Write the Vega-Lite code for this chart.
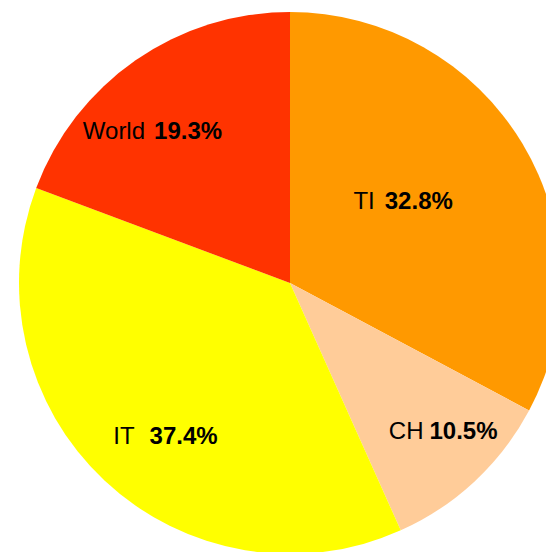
{
  "$schema": "https://vega.github.io/schema/vega-lite/v6.json",
  "autosize": {"type": "none"},
  "width": 512,
  "height": 538,
  "padding": {"left": 34, "top": 14, "right": 0, "bottom": 0},
  "background": "white",
  "config": {"view": {"stroke": null}},
  "data": {"values": [
    {"name": "TI", "pct": 32.8, "rank": 1},
    {"name": "CH", "pct": 10.5, "rank": 2},
    {"name": "IT", "pct": 37.4, "rank": 3},
    {"name": "World", "pct": 19.3, "rank": 4}
  ]},
  "transform": [{"calculate": "format(datum.pct, '.1f') + '%'", "as": "label"}],
  "encoding": {
    "theta": {"field": "pct", "type": "quantitative", "stack": true},
    "order": {"field": "rank", "type": "quantitative"}
  },
  "layer": [
    {
      "mark": {"type": "arc", "outerRadius": 271},
      "encoding": {
        "color": {"field": "name", "type": "nominal", "legend": null,
          "scale": {"domain": ["TI", "CH", "IT", "World"], "range": ["#FF9900", "#FFCC99", "#FFFF00", "#FF3300"]}}
      }
    },
    {
      "mark": {"type": "text", "radius": 117, "thetaOffset": -0.22, "align": "right", "baseline": "middle", "font": "Liberation Sans", "fontSize": 24, "color": "black"},
      "encoding": {"text": {"condition": {"test": "datum.name === 'TI'", "field": "name"}, "value": ""}}
    },
    {
      "mark": {"type": "text", "radius": 117, "thetaOffset": -0.22, "align": "left", "dx": 10, "baseline": "middle", "font": "Liberation Sans", "fontSize": 24, "fontWeight": "bold", "color": "black"},
      "encoding": {"text": {"condition": {"test": "datum.name === 'TI'", "field": "label"}, "value": ""}}
    },
    {
      "mark": {"type": "text", "radius": 200, "thetaOffset": 0.02, "align": "right", "baseline": "middle", "font": "Liberation Sans", "fontSize": 24, "color": "black"},
      "encoding": {"text": {"condition": {"test": "datum.name === 'CH'", "field": "name"}, "value": ""}}
    },
    {
      "mark": {"type": "text", "radius": 200, "thetaOffset": 0.02, "align": "left", "dx": 6, "baseline": "middle", "font": "Liberation Sans", "fontSize": 24, "fontWeight": "bold", "color": "black"},
      "encoding": {"text": {"condition": {"test": "datum.name === 'CH'", "field": "label"}, "value": ""}}
    },
    {
      "mark": {"type": "text", "radius": 219, "thetaOffset": 0.035, "align": "right", "baseline": "middle", "font": "Liberation Sans", "fontSize": 24, "color": "black"},
      "encoding": {"text": {"condition": {"test": "datum.name === 'IT'", "field": "name"}, "value": ""}}
    },
    {
      "mark": {"type": "text", "radius": 219, "thetaOffset": 0.035, "align": "left", "dx": 15, "baseline": "middle", "font": "Liberation Sans", "fontSize": 24, "fontWeight": "bold", "color": "black"},
      "encoding": {"text": {"condition": {"test": "datum.name === 'IT'", "field": "label"}, "value": ""}}
    },
    {
      "mark": {"type": "text", "radius": 209, "thetaOffset": -0.16, "align": "right", "baseline": "middle", "font": "Liberation Sans", "fontSize": 24, "color": "black"},
      "encoding": {"text": {"condition": {"test": "datum.name === 'World'", "field": "name"}, "value": ""}}
    },
    {
      "mark": {"type": "text", "radius": 209, "thetaOffset": -0.16, "align": "left", "dx": 9, "baseline": "middle", "font": "Liberation Sans", "fontSize": 24, "fontWeight": "bold", "color": "black"},
      "encoding": {"text": {"condition": {"test": "datum.name === 'World'", "field": "label"}, "value": ""}}
    }
  ]
}
